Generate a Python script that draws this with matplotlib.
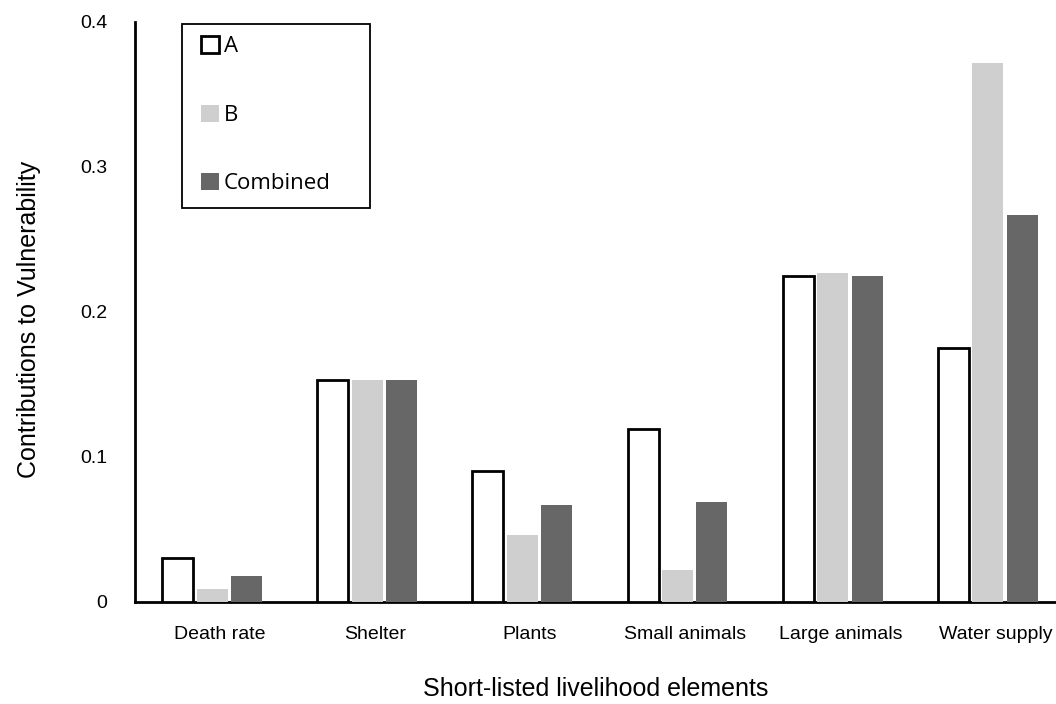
import numpy as np
import matplotlib.pyplot as plt
from matplotlib.patches import Rectangle

categories = ['Death rate', 'Shelter', 'Plants', 'Small animals', 'Large animals', 'Water supply']
series_a = [0.030, 0.153, 0.090, 0.119, 0.225, 0.175]
series_b = [0.009, 0.153, 0.046, 0.022, 0.227, 0.372]
combined = [0.018, 0.153, 0.067, 0.069, 0.225, 0.267]
yticks = [0, 0.1, 0.2, 0.3, 0.4]
ytick_labels = ['0', '0.1', '0.2', '0.3', '0.4']

plt.rcParams['font.family'] = ['Liberation Sans', 'DejaVu Sans']

fig = plt.figure(figsize=(10.56, 7.04), dpi=100)
ax = fig.add_axes([0.1278, 0.1449, 0.8722, 0.8239])

x = np.arange(len(categories))
w = 0.2
off = 0.222
ax.bar(x - off, series_a, w, facecolor='white', edgecolor='black', linewidth=2, label='A', zorder=3)
ax.bar(x, series_b, w, color='#cfcfcf', label='B', zorder=3)
ax.bar(x + off, combined, w, color='#676767', label='Combined', zorder=3)

ax.set_xlim(-0.497, 5.44)
ax.set_ylim(0, 0.4)
ax.set_yticks(yticks)
ax.set_yticklabels(ytick_labels, fontsize=14)
ax.set_xticks(x + 0.05)
ax.set_xticklabels(categories, fontsize=14)
ax.tick_params(axis='y', length=0, pad=20)
ax.tick_params(axis='x', length=0, pad=17.5)

for s in ['top', 'right']:
    ax.spines[s].set_visible(False)
ax.spines['left'].set_linewidth(2)
ax.spines['bottom'].set_linewidth(2)

ax.set_xlabel('Short-listed livelihood elements', fontsize=18, labelpad=24)
ax.set_ylabel('Contributions to Vulnerability', fontsize=18, labelpad=28)
ax.yaxis.label.set_y(0.488)

# legend box drawn separately, legend itself frameless
ax.add_patch(Rectangle((0.051, 0.6793), 0.204, 0.3173, transform=ax.transAxes,
                       facecolor='white', edgecolor='black', linewidth=1.3, zorder=4))
leg = ax.legend(loc='upper left', bbox_to_anchor=(0.0717, 0.9759), frameon=False,
                prop={'family': ['Open Sans', 'DejaVu Sans'], 'size': 16},
                handlelength=0.82, handleheight=0.82, handletextpad=0.2,
                labelspacing=2.125, borderpad=0.0, borderaxespad=0.0)
leg.set_zorder(5)

fig.savefig('out.png', dpi=100)
